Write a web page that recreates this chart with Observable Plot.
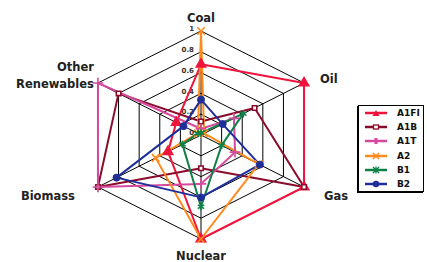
<!DOCTYPE html>
<html>
<head>
<meta charset="utf-8">
<script src="https://cdn.jsdelivr.net/npm/d3@7"></script>
<script src="https://cdn.jsdelivr.net/npm/@observablehq/plot@0.6"></script>
<style>
  body { margin: 0; background: white; }
  #wrap { position: relative; width: 427px; height: 262px; overflow: hidden; }
  #legend { position: absolute; left: 358px; top: 105px; width: 64px; height: 85px;
            border: 1px solid #000; box-shadow: -1px 1px 0 #000; background: white;
            font-family: "DejaVu Sans", sans-serif; font-weight: bold; font-size: 9px; color: #111; }
  .row { position: absolute; left: 0; height: 12px; display: flex; align-items: center; }
  .row svg { display: block; }
  .row span { position: absolute; left: 38px; white-space: nowrap; }
</style>
</head>
<body>
<div id="wrap"><div id="chart"></div><div id="legend"></div></div>
<script>
// ---- data ----
const axes = ["Coal", "Oil", "Gas", "Nuclear", "Biomass", "Other Renewables"];
const seriesNames = ["A1FI", "A1B", "A1T", "A2", "B1", "B2"];
const A1FI = [0.68, 1.0, 1.0, 1.0, 0.32, 0.24];
const A1B  = [0.13, 0.52, 1.0, 0.32, 1.0, 0.80];
const A1T  = [0.06, 0.32, 0.33, 0.47, 1.0, 1.0];
const A2   = [1.0, 0.03, 0.56, 1.0, 0.44, 0.03];
const B1   = [0.02, 0.41, 0.20, 0.69, 0.18, 0.03];
const B2   = [0.34, 0.21, 0.57, 0.60, 0.82, 0.17];
const ringValues = [0.2, 0.4, 0.6, 0.8, 1.0];
const tickValues = [0, 0.2, 0.4, 0.6, 0.8, 1];
const tickLabels = ["0", "0.2", "0.4", "0.6", "0.8", "1"];

// ---- styles ----
const colors = ["#f0143c", "#8a0c2c", "#d5499e", "#ff8a1c", "#0e8147", "#1f2f9a"];
const symbols = ["triangle", "square", "plus", "times", "asterisk", "circle"];
const fills = ["#f0143c", "white", "#d5499e", "none", "none", "#1f2f9a"];
const labelStyle = {
  "Coal": {dx: 0, dy: -15, anchor: "middle"},
  "Oil": {dx: 16, dy: -6, anchor: "start"},
  "Gas": {dx: 20, dy: 7, anchor: "start"},
  "Nuclear": {dx: 0, dy: 15, anchor: "middle"},
  "Biomass": {dx: -23, dy: 7, anchor: "end"},
  "Other Renewables": {dx: -4, dy: -9, anchor: "end"}
};

const valuesBySeries = [A1FI, A1B, A1T, A2, B1, B2];
const ang = i => i * Math.PI / 3;
const px = (v, i) => v * Math.sin(ang(i));
const py = (v, i) => v * Math.cos(ang(i));

// ring rows
const rings = [];
ringValues.forEach(r => { for (let k = 0; k <= 6; k++) rings.push({r, X: px(r, k % 6), Y: py(r, k % 6)}); });
// series rows (closed)
const pts = [];
const dots = [];
seriesNames.forEach((s, si) => {
  const vals = valuesBySeries[si];
  for (let k = 0; k <= 6; k++) {
    const i = k % 6;
    const row = {s, si, X: px(vals[i], i), Y: py(vals[i], i)};
    pts.push(row);
    if (k < 6) dots.push(row);
  }
});
const spokes = axes.map((a, i) => ({a, X: px(1, i), Y: py(1, i)}));

const W = 427, H = 262, cx = 200.5, cy = 134.5, RX = 119, RY = 104;

const marks = [
  Plot.line(rings, {x: "X", y: "Y", z: "r", stroke: "#000", strokeWidth: 1}),
  Plot.link(spokes, {x1: 0, y1: 0, x2: "X", y2: "Y", stroke: "#000", strokeWidth: 1}),
  Plot.text(tickValues, {x: 0, y: d => d, text: (d, i) => tickLabels[i], dx: -7, dy: -2,
    textAnchor: "end", fontSize: 7, fontWeight: "bold", fill: "#333"}),
];
seriesNames.forEach((s, si) => {
  marks.push(Plot.line(pts.filter(d => d.si === si), {x: "X", y: "Y", stroke: colors[si], strokeWidth: 2}));
});
seriesNames.forEach((s, si) => {
  marks.push(Plot.dot(dots.filter(d => d.si === si), {x: "X", y: "Y", symbol: symbols[si],
    r: si === 1 ? 2.5 : 3.5, stroke: colors[si], fill: fills[si], strokeWidth: si === 5 ? 1 : 1.6}));
});
axes.forEach((a, i) => {
  const st = labelStyle[a];
  marks.push(Plot.text([a], {x: px(1, i), y: py(1, i), text: d => d.replace("Other Renewables", "Other\nRenewables"),
    dx: st.dx, dy: st.dy, textAnchor: st.anchor, lineHeight: 1.5,
    fontSize: 11.5, fontWeight: "bold", fill: "#222"}));
});

const chart = Plot.plot({
  width: W, height: H,
  margin: 0,
  x: {domain: [-cx / RX, (W - cx) / RX], range: [0, W], axis: null},
  y: {domain: [(cy - H) / RY, cy / RY], range: [H, 0], axis: null},
  style: {fontFamily: "'DejaVu Sans', sans-serif", background: "white", overflow: "visible"},
  marks
});
document.getElementById("chart").appendChild(chart);

// legend
const legend = document.getElementById("legend");
const symbolPaths = {
  triangle: c => `<path d="M17,3 L20.5,9 L13.5,9 Z" fill="${c}"/>`,
  square: c => `<rect x="14.5" y="4" width="5" height="4" fill="white" stroke="${c}" stroke-width="1.3"/>`,
  plus: c => `<rect x="15.5" y="3" width="3" height="6" fill="${c}"/>`,
  times: c => `<path d="M14,3 L20,9 M20,3 L14,9" stroke="${c}" stroke-width="1.5"/>`,
  asterisk: c => `<path d="M14,3 L20,9 M20,3 L14,9 M17,2.5 L17,9.5" stroke="${c}" stroke-width="1.3"/>`,
  circle: c => `<circle cx="17" cy="6" r="3.2" fill="${c}"/>`
};
seriesNames.forEach((s, si) => {
  const row = document.createElement("div");
  row.className = "row";
  row.style.top = (1 + si * 14.2) + "px";
  row.innerHTML = `<svg width="36" height="12"><line x1="6" x2="28" y1="6" y2="6" stroke="${colors[si]}" stroke-width="2.5"/>` +
    symbolPaths[symbols[si]](colors[si]) + `</svg><span>${s}</span>`;
  legend.appendChild(row);
});
</script>
</body>
</html>
